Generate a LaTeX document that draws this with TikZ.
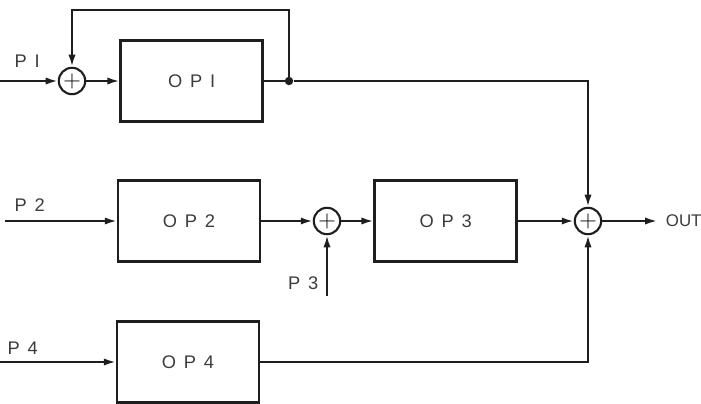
\documentclass[tikz,border=0pt]{standalone}
\usepackage{fontspec}
\setmainfont{Liberation Sans}
\newfontfamily\opfont[LetterSpace=15]{Liberation Sans}
\usetikzlibrary{arrows.meta,positioning,calc}
\definecolor{linec}{RGB}{30,30,30}
\definecolor{txtc}{RGB}{60,60,60}
\tikzset{
  blk/.style={draw=linec, line width=1.6pt, minimum width=3.55cm, minimum height=2.03cm,
              font=\opfont\fontsize{13}{15}\selectfont, text=txtc},
  sumc/.style={draw=linec, line width=1.5pt, circle, minimum size=0.66cm, inner sep=0pt,
               font=\fontsize{16}{16}\selectfont},
  sig/.style={-{Latex[length=3mm,width=1.8mm]}, linec, line width=1.5pt},
  wire/.style={linec, line width=1.5pt},
  plab/.style={font=\opfont\fontsize{13}{15}\selectfont, text=txtc},
  jdot/.style={circle, fill=linec, inner sep=0pt, minimum size=6pt},
}
\begin{document}
\begin{tikzpicture}
    \useasboundingbox (0,0) rectangle (17.525,-10.075);
    % blocks and summing points
    \node[sumc] (s1) at (1.8,-2.025) {$+$};
    \node[blk] (op1) at (4.79,-2.025) {O P I};
    \node[blk] (op2) at (4.725,-5.525) {O P 2};
    \node[sumc] (s2) at (8.175,-5.525) {$+$};
    \node[blk] (op3) at (11.14,-5.525) {O P 3};
    \node[sumc] (s3) at (14.7,-5.525) {$+$};
    \node[blk] (op4) at (4.7,-9.05) {O P 4};
    \node[jdot] (j1) at (7.225,-2.025) {};
    % inputs
    \coordinate (in1) at (0,-2.025);
    \coordinate (in2) at (0.12,-5.525);
    \coordinate (in3) at (8.175,-7.4);
    \coordinate (in4) at (0,-9.05);
    \coordinate (out) at (16.43,-5.525);
    \node[plab] (p1) at (0.68,-1.52) {P I};
    \node[plab] (p2) at (0.74,-5.12) {P 2};
    \node[plab] (p3) at (7.58,-7.08) {P 3};
    \node[plab] (p4) at (0.57,-8.7) {P 4};
    \node[anchor=west, inner sep=0pt, text=txtc, font=\fontsize{12}{14}\selectfont] (ot) at (16.64,-5.525) {OUT};
    % connections
    \draw[sig] (in1) -- (s1);
    \draw[sig] (s1) -- (op1);
    \draw[wire] (op1) -- (j1);
    \draw[sig] (j1) |- (1.8,-0.25) -- (s1);
    \draw[sig] (j1) -| (s3);
    \draw[sig] (in2) -- (op2);
    \draw[sig] (op2) -- (s2);
    \draw[sig] (in3) -- (s2);
    \draw[sig] (s2) -- (op3);
    \draw[sig] (op3) -- (s3);
    \draw[sig] (op4) -| (s3);
    \draw[sig] (in4) -- (op4);
    \draw[sig] (s3) -- (out);
\end{tikzpicture}
\end{document}
